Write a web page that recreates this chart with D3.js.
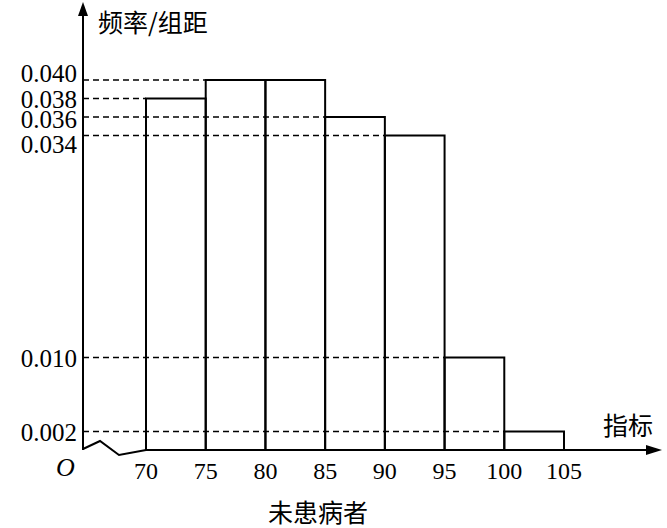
<!DOCTYPE html>
<html><head><meta charset="utf-8">
<script src="https://cdn.jsdelivr.net/npm/d3@7"></script>
<style>body{margin:0;background:#fff}</style>
</head><body>
<svg id="chart" width="667" height="528"></svg>
<script>
const binStarts = [70, 75, 80, 85, 90, 95, 100];
const density = [0.038, 0.040, 0.040, 0.036, 0.034, 0.010, 0.002];
const xTicks = [70, 75, 80, 85, 90, 95, 100, 105];
const yTicks = [0.040, 0.038, 0.036, 0.034, 0.010, 0.002];
const yGuideEnds = [80, 70, 85, 90, 95, 100];

const svg = d3.select("#chart");
const font = "'Liberation Serif', 'Noto Sans CJK SC', serif";
const cjk = "'Noto Sans CJK SC', sans-serif";
const x = d3.scaleLinear().domain([70, 105]).range([146, 564]);
const y = d3.scaleLinear().domain([0, 0.040]).range([450, 80]);
const ox = 83, oy = 450;

// dashed guides
yTicks.forEach((v, i) => {
  svg.append("line").attr("x1", ox).attr("x2", x(yGuideEnds[i]))
    .attr("y1", y(v)).attr("y2", y(v))
    .attr("stroke", "#000").attr("stroke-width", 1.5).attr("stroke-dasharray", "6,4");
});

svg.selectAll("rect.bar").data(binStarts).join("rect")
  .attr("x", d => x(d)).attr("width", d => x(d + 5) - x(d))
  .attr("y", (d, i) => y(density[i])).attr("height", (d, i) => oy - y(density[i]))
  .attr("fill", "none").attr("stroke", "#000").attr("stroke-width", 2);

// axes
svg.append("path").attr("d", `M${ox},${oy} L${ox},12`).attr("stroke", "#000").attr("stroke-width", 2);
svg.append("path").attr("d", `M${ox-5},16 L${ox},2 L${ox+5},16 Z`).attr("fill", "#000");
svg.append("path").attr("d", `M${ox},${oy-1} L100,441 L119,455 L146,${oy} L650,${oy}`)
  .attr("fill", "none").attr("stroke", "#000").attr("stroke-width", 2);
svg.append("path").attr("d", `M646,${oy-5} L662,${oy} L646,${oy+5} Z`).attr("fill", "#000");

svg.selectAll("text.xt").data(xTicks).join("text")
  .attr("x", d => x(d)).attr("y", 479).attr("text-anchor", "middle")
  .attr("font-family", font).attr("font-size", 24).text(d => d);
const yOff = {"0.040": 2, "0.038": 9, "0.036": 11, "0.034": 17, "0.010": 9, "0.002": 9};
svg.selectAll("text.yt").data(yTicks).join("text")
  .attr("x", 77).attr("y", d => y(d) + yOff[d.toFixed(3)])
  .attr("text-anchor", "end").attr("font-family", font).attr("font-size", 25).text(d => d.toFixed(3));

svg.append("text").attr("x", 56).attr("y", 476).attr("font-family", font).attr("font-style", "italic")
  .attr("font-size", 26).text("O");
svg.append("text").attr("x", 98).attr("y", 32).attr("font-family", cjk).attr("font-size", 25).text("频率/组距");
svg.append("text").attr("x", 603).attr("y", 435).attr("font-family", cjk).attr("font-size", 25).text("指标");
svg.append("text").attr("x", 318).attr("y", 522).attr("text-anchor", "middle").attr("font-family", cjk).attr("font-size", 25).text("未患病者");
</script>
</body></html>
